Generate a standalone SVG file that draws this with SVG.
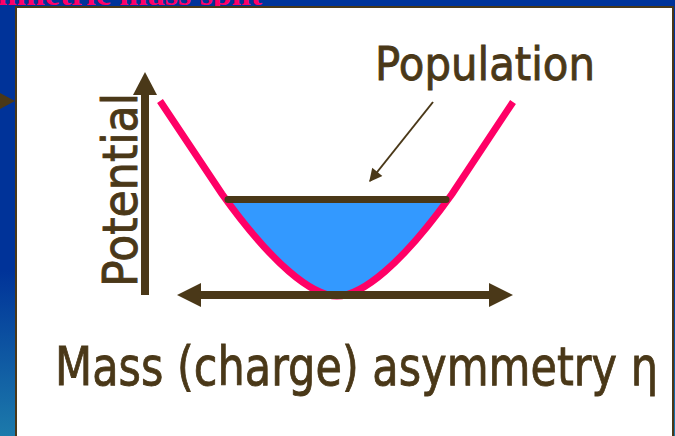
<svg xmlns="http://www.w3.org/2000/svg" width="675" height="436" viewBox="0 0 675 436">
<defs>
<linearGradient id="bg" x1="0" y1="0" x2="0" y2="1">
<stop offset="0" stop-color="#003399"/>
<stop offset="0.62" stop-color="#003399"/>
<stop offset="1" stop-color="#1c7aab"/>
</linearGradient>
<marker id="ah" viewBox="0 0 10 10" refX="9" refY="5" markerWidth="16" markerHeight="13" orient="auto" markerUnits="userSpaceOnUse">
<path d="M0,0 L10,5 L0,10 Z" fill="#4a3818"/>
</marker>
<style>
.lbl{font-family:"DejaVu Sans","Open Sans",sans-serif;fill:#4a3818;stroke:#4a3818;stroke-width:0.9}
.brown{fill:#4a3818}
.axis{stroke:#4a3818;stroke-width:8;fill:none}
</style>
</defs>
<rect x="0" y="0" width="675" height="436" fill="url(#bg)"/>
<text x="262" y="5" text-anchor="end" font-family="Liberation Serif, serif" font-weight="bold" font-size="34" fill="#ff0066">Asymmetric mass split</text>
<polygon points="0,93 15,101 0,109" class="brown"/>
<rect x="16" y="7" width="657" height="440" fill="#ffffff" stroke="#4a3818" stroke-width="2"/>

<g id="well">
<path d="M224,199 C272,264 312,296 337,296 C362,296 402,264 450,199 Z" fill="#3399ff"/>
<path d="M160,101 L222,194 C272,264 312,296 337,296 C362,296 402,264 452,194 L513,102" fill="none" stroke="#ff0066" stroke-width="7"/>
<line x1="228" y1="199.5" x2="446" y2="199.5" stroke="#4a3818" stroke-width="7" stroke-linecap="round"/>
</g>

<g id="axes">
<line x1="145" y1="295" x2="145" y2="92" class="axis"/>
<polygon points="145,72 157,95 133,95" class="brown"/>
<line x1="198" y1="295" x2="492" y2="295" class="axis"/>
<polygon points="177,295 201,283 201,307" class="brown"/>
<polygon points="513,295 489,283 489,307" class="brown"/>
</g>

<g id="connectors">
<line x1="433" y1="102" x2="370" y2="181" stroke="#4a3818" stroke-width="2" marker-end="url(#ah)"/>
</g>

<g id="population">
<text x="375" y="80" class="lbl" font-size="46" textLength="220" lengthAdjust="spacingAndGlyphs">Population</text>
</g>
<g id="potential">
<text transform="translate(137,287) rotate(-90)" class="lbl" font-size="48" textLength="194" lengthAdjust="spacingAndGlyphs">Potential</text>
</g>
<g id="mass">
<text x="55" y="385" class="lbl" font-size="54" textLength="603" lengthAdjust="spacingAndGlyphs">Mass (charge) asymmetry η</text>
</g>
</svg>
